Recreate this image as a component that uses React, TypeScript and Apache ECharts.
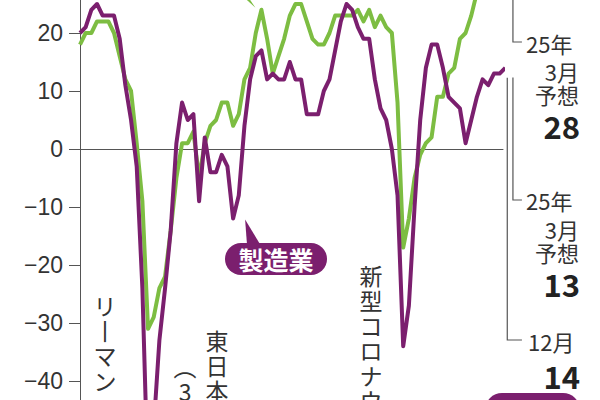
import React, { useEffect, useRef } from 'react';
import * as echarts from 'echarts';

// 日銀短観 大企業の業況判断DI（四半期、06年3月〜24年12月）
const quarters: string[] = [
  '06/3', '06/6', '06/9', '06/12', '07/3', '07/6', '07/9', '07/12',
  '08/3', '08/6', '08/9', '08/12', '09/3', '09/6', '09/9', '09/12',
  '10/3', '10/6', '10/9', '10/12', '11/3', '11/6', '11/9', '11/12',
  '12/3', '12/6', '12/9', '12/12', '13/3', '13/6', '13/9', '13/12',
  '14/3', '14/6', '14/9', '14/12', '15/3', '15/6', '15/9', '15/12',
  '16/3', '16/6', '16/9', '16/12', '17/3', '17/6', '17/9', '17/12',
  '18/3', '18/6', '18/9', '18/12', '19/3', '19/6', '19/9', '19/12',
  '20/3', '20/6', '20/9', '20/12', '21/3', '21/6', '21/9', '21/12',
  '22/3', '22/6', '22/9', '22/12', '23/3', '23/6', '23/9', '23/12',
  '24/3', '24/6', '24/9', '24/12'
];
const forecastQuarter = '25/3';

const manufacturing: number[] = [
  20, 21, 24, 25, 23, 23, 23, 19, 11, 5, -3, -24, -58, -48, -33, -24,
  -14, 1, 8, 5, 6, -9, 2, -4, -4, -1, -3, -12, -8, 4, 12, 16,
  17, 12, 13, 12, 12, 15, 12, 12, 6, 6, 6, 10, 12, 17, 22, 25,
  24, 21, 19, 19, 12, 7, 5, 0, -8, -34, -27, -10, 5, 14, 18, 18,
  14, 9, 8, 7, 1, 5, 9, 12, 11, 13, 13, 14
];
const nonManufacturing: number[] = [
  18, 20, 20, 22, 22, 22, 20, 16, 12, 10, 1, -9, -31, -29, -24, -22,
  -14, -5, 1, 1, 3, -5, 1, 4, 5, 8, 8, 4, 6, 12, 14, 20,
  24, 19, 13, 16, 19, 23, 25, 25, 22, 19, 18, 18, 20, 23, 23, 23,
  23, 24, 22, 24, 21, 23, 21, 20, 8, -17, -12, -5, -1, 1, 2, 9,
  9, 13, 14, 19, 20, 23, 27, 30, 34, 33, 34, 33
];
const mfgForecast = 13;
const nonMfgForecast = 28;

const PURPLE = '#7b1f6e';
const GREEN = '#7dbd42';
const INK = '#333';
const CJK = "'Noto Sans CJK JP', sans-serif";

// the picture is a crop of a taller chart: the chart div starts above the page
const SHIFT = 103;
const GRID_TOP = 20;

const App: React.FC = () => {
  const chartRef = useRef<HTMLDivElement>(null);

  useEffect(() => {
    if (!chartRef.current) return;
    const chart = echarts.init(chartRef.current, null, { renderer: 'svg' });

    const last = quarters.length - 1;
    const toPairs = (arr: number[]) => arr.map((v, i) => [i, v]);

    const option: any = {
      animation: false,
      backgroundColor: '#fff',
      grid: {
        left: 77, top: GRID_TOP, width: 426, height: 522,
        containLabel: false, outerBoundsMode: 'none'
      },
      xAxis: {
        type: 'value',
        min: -0.53,
        max: 74.6,
        axisLine: { onZero: true, lineStyle: { color: '#555', width: 1 } },
        axisTick: { show: false },
        axisLabel: { show: false },
        splitLine: { show: false }
      },
      yAxis: {
        type: 'value',
        min: -50,
        max: 40,
        interval: 10,
        axisLine: { show: true, lineStyle: { color: '#555', width: 1 } },
        axisTick: { show: true, length: 11, lineStyle: { color: '#555' } },
        axisLabel: {
          margin: 14,
          fontSize: 23,
          color: INK,
          fontFamily: "'Liberation Sans', sans-serif",
          formatter: (v: number) => (v < 0 ? '\u2212' + Math.abs(v) : String(v))
        },
        splitLine: { show: false }
      },
      series: [
        {
          name: '非製造業',
          type: 'line',
          data: toPairs(nonManufacturing),
          symbol: 'none',
          clip: false,
          lineStyle: { color: GREEN, width: 4, join: 'round' },
          z: 2
        },
        {
          name: '非製造業（予想）',
          type: 'line',
          data: [[last, nonManufacturing[last]], [last + 1, nonMfgForecast]],
          symbol: 'none',
          clip: false,
          lineStyle: { color: GREEN, width: 3, type: [2, 2] },
          z: 2
        },
        {
          name: '製造業',
          type: 'line',
          data: toPairs(manufacturing),
          symbol: 'none',
          clip: false,
          lineStyle: { color: PURPLE, width: 4, join: 'round' },
          z: 3
        },
        {
          name: '製造業（予想）',
          type: 'line',
          data: [[last, manufacturing[last]], [last + 1, mfgForecast]],
          symbol: 'none',
          clip: false,
          lineStyle: { color: PURPLE, width: 3, type: [2, 2] },
          z: 3
        }
      ]
    };
    chart.setOption(option);

    // anchors taken from the data through the chart's own scales (page coords)
    const at = (i: number, v: number) => {
      const p = chart.convertToPixel({ seriesIndex: 0 }, [i, v]) as number[];
      return [p[0], p[1] - SHIFT];
    };
    const [mx, my] = at(last, manufacturing[last]);
    const [fx, fy] = at(last + 1, mfgForecast);
    const [gx, gy] = at(last + 1, nonMfgForecast);
    const [px, py] = at(27, manufacturing[27]);
    const [nx, ny] = at(32, nonManufacturing[32]);

    const label = (
      text: string, x: number, y: number, align: string,
      size = 22, weight: string | number = 'normal', color = INK
    ) => ({
      type: 'text', x, y, z: 10,
      style: {
        text, fill: color, align, verticalAlign: 'middle',
        font: `${weight} ${size}px ${CJK}`
      }
    });
    const vertical = (text: string, x: number, y: number, size = 23) => ({
      type: 'text', x, y, z: 10,
      style: {
        text: Array.from(text).join('\n'), fill: INK, align: 'center', verticalAlign: 'top',
        font: `normal ${size}px ${CJK}`, lineHeight: 25
      }
    });
    const bracket = (pts: number[][]) => ({
      type: 'polyline', z: 5,
      shape: { points: pts },
      style: { stroke: '#555', lineWidth: 1.2, fill: 'none' }
    });

    const children: any[] = [
      // 非製造業 leader (its label sits above the crop)
      {
        type: 'polygon', z: 6,
        shape: { points: [[nx - 19, -4], [nx - 14, -4], [nx - 6, ny - 2]] },
        style: { fill: GREEN }
      },
      // 製造業 pill
      {
        type: 'polygon', z: 6,
        shape: { points: [[px + 12, py + 1], [px + 14, 246], [px + 28, 246]] },
        style: { fill: PURPLE }
      },
      {
        type: 'rect', z: 6,
        shape: { x: 225, y: 243, width: 102, height: 32, r: 16 },
        style: { fill: PURPLE }
      },
      label('製造業', 276, 259, 'center', 25, 'bold', '#fff'),
      // bottom-right pill
      {
        type: 'rect', z: 6,
        shape: { x: 485, y: 393, width: 95, height: 34, r: 17 },
        style: { fill: PURPLE }
      },
      label('製造業', 532, 410, 'center', 24, 'bold', '#fff'),

      // right-side brackets
      bracket([[gx + 2, gy + 4], [gx + 2, 42], [gx + 11, 42]]),
      bracket([[fx + 2, fy + 4], [fx + 2, 200], [fx + 11, 200]]),
      bracket([[mx + 2, my + 10], [mx + 2, 340], [fx + 11, 340]]),

      label('25年', 526, 43, 'left'),
      label('3月', 579, 71, 'right'),
      label('予想', 579, 94, 'right'),
      label(String(nonMfgForecast), 580, 125, 'right', 31, 'bold', '#222'),

      label('25年', 526, 200, 'left'),
      label('3月', 579, 229, 'right'),
      label('予想', 579, 252, 'right'),
      label(String(mfgForecast), 580, 283, 'right', 31, 'bold', '#222'),

      label('12月', 528, 341, 'left'),
      label(String(manufacturing[last]), 580, 375, 'right', 31, 'bold', '#222'),

      // event notes
      vertical('リ丨マン・ショック', 105, 292),
      vertical('東日本大震災', 217, 327),
      vertical('︵3・11︶', 185, 353),
      vertical('新型コロナウイルス', 371, 262)
    ];
    chart.setOption({ graphic: [{ type: 'group', x: 0, y: SHIFT, children }] });

    return () => {
      chart.dispose();
    };
  }, []);

  return (
    <div
      ref={chartRef}
      style={{ position: 'fixed', left: 0, top: -SHIFT, width: 600, height: 620, background: '#fff' }}
    />
  );
};

export default App;
